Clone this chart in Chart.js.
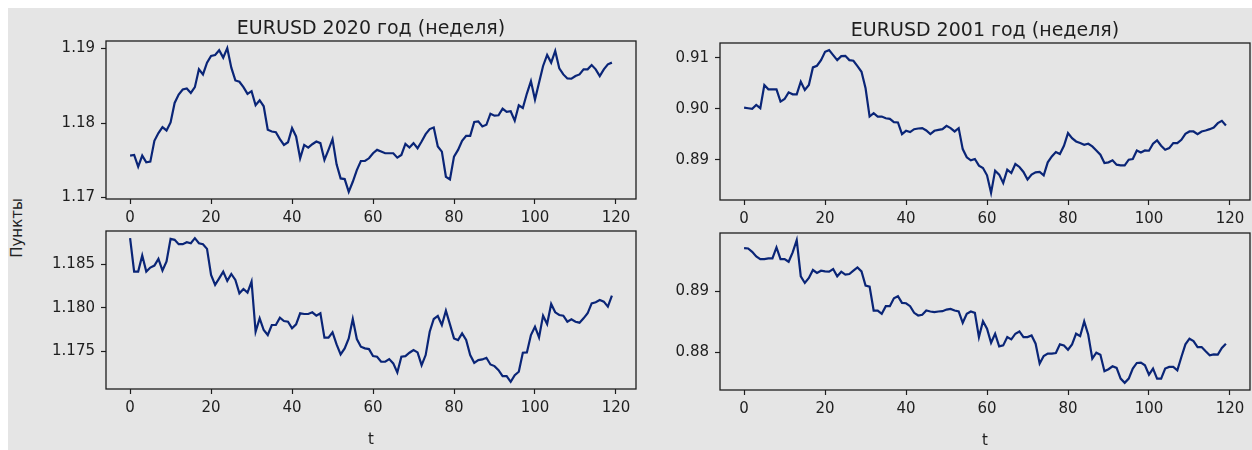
<!DOCTYPE html>
<html>
<head>
<meta charset="utf-8">
<script src="https://cdn.jsdelivr.net/npm/chart.js@4.4.1/dist/chart.umd.min.js"></script>
<style>
  html, body { margin: 0; padding: 0; background: #fff; overflow: hidden; width: 1252px; height: 450px; }
  #fig { position: absolute; left: 8px; top: 8px; right: 0; bottom: 0; background: #e5e5e5; }
  canvas { position: absolute; }
  #ylab {
    position: absolute; left: 17px; top: 228px;
    transform: translate(-50%, -50%) rotate(-90deg);
    font: 15px "DejaVu Sans"; color: #222; white-space: nowrap;
  }
</style>
</head>
<body>
<div id="fig"></div>
<div id="ylab">Пункты</div>
<script>
// weekly EURUSD closes
const eurusd2020Top = [
  1.17563, 1.17572, 1.17414, 1.17563, 1.17473, 1.17482, 1.17761, 1.17865, 1.17946, 1.17901,
  1.18009, 1.18270, 1.18383, 1.18450, 1.18464, 1.18405, 1.18482, 1.18721, 1.18653, 1.18811,
  1.18901, 1.18914, 1.18977, 1.18878, 1.19005, 1.18743, 1.18572, 1.18554, 1.18482, 1.18392,
  1.18428, 1.18239, 1.18306, 1.18225, 1.17910, 1.17887, 1.17878, 1.17784, 1.17707, 1.17743,
  1.17932, 1.17820, 1.17527, 1.17707, 1.17671, 1.17716, 1.17752, 1.17730, 1.17505, 1.17640,
  1.17784, 1.17446, 1.17257, 1.17248, 1.17077, 1.17212, 1.17369, 1.17491, 1.17491, 1.17527,
  1.17595, 1.17640, 1.17617, 1.17595, 1.17595, 1.17595, 1.17536, 1.17572, 1.17721, 1.17671,
  1.17730, 1.17662, 1.17752, 1.17851, 1.17919, 1.17941, 1.17685, 1.17617, 1.17279, 1.17243,
  1.17550, 1.17640, 1.17761, 1.17829, 1.17829, 1.18014, 1.18023, 1.17955, 1.17977, 1.18126,
  1.18099, 1.18104, 1.18194, 1.18149, 1.18158, 1.18032, 1.18239, 1.18203, 1.18396, 1.18563,
  1.18315, 1.18541, 1.18766, 1.18914, 1.18811, 1.18968, 1.18734, 1.18653, 1.18599, 1.18595,
  1.18631, 1.18653, 1.18721, 1.18721, 1.18779, 1.18721, 1.18631, 1.18721, 1.18788, 1.18811
];
const eurusd2020Bottom = [
  1.18800, 1.18415, 1.18415, 1.18600, 1.18415, 1.18462, 1.18485, 1.18562, 1.18427, 1.18531,
  1.18792, 1.18781, 1.18731, 1.18731, 1.18754, 1.18742, 1.18800, 1.18742, 1.18731, 1.18677,
  1.18377, 1.18262, 1.18338, 1.18415, 1.18308, 1.18388, 1.18319, 1.18165, 1.18215, 1.18173,
  1.18300, 1.17723, 1.17877, 1.17742, 1.17685, 1.17800, 1.17800, 1.17885, 1.17846, 1.17838,
  1.17762, 1.17808, 1.17935, 1.17927, 1.17927, 1.17946, 1.17908, 1.17935, 1.17654, 1.17654,
  1.17715, 1.17577, 1.17462, 1.17531, 1.17646, 1.17869, 1.17638, 1.17550, 1.17531, 1.17523,
  1.17442, 1.17435, 1.17377, 1.17377, 1.17408, 1.17358, 1.17254, 1.17435, 1.17442, 1.17481,
  1.17512, 1.17485, 1.17338, 1.17454, 1.17723, 1.17869, 1.17904, 1.17800, 1.17965, 1.17808,
  1.17646, 1.17627, 1.17704, 1.17627, 1.17454, 1.17365, 1.17396, 1.17404, 1.17423, 1.17346,
  1.17327, 1.17281, 1.17212, 1.17212, 1.17146, 1.17223, 1.17262, 1.17481, 1.17485, 1.17685,
  1.17781, 1.17658, 1.17908, 1.17812, 1.18042, 1.17946, 1.17915, 1.17908, 1.17838, 1.17865,
  1.17838, 1.17827, 1.17877, 1.17935, 1.18050, 1.18062, 1.18088, 1.18069, 1.18012, 1.18138
];
const eurusd2001Top = [
  0.90023, 0.90010, 0.89997, 0.90075, 0.90010, 0.90466, 0.90381, 0.90381, 0.90381, 0.90140,
  0.90192, 0.90322, 0.90283, 0.90283, 0.90531, 0.90368, 0.90466, 0.90811, 0.90844, 0.90954,
  0.91117, 0.91150, 0.91052, 0.90954, 0.91033, 0.91039, 0.90954, 0.90941, 0.90837, 0.90726,
  0.90401, 0.89847, 0.89912, 0.89847, 0.89847, 0.89814, 0.89801, 0.89736, 0.89730, 0.89502,
  0.89567, 0.89541, 0.89599, 0.89612, 0.89619, 0.89573, 0.89502, 0.89567, 0.89586, 0.89599,
  0.89664, 0.89619, 0.89554, 0.89619, 0.89208, 0.89046, 0.88987, 0.89013, 0.88883, 0.88837,
  0.88694, 0.88349, 0.88785, 0.88707, 0.88544, 0.88805, 0.88739, 0.88915, 0.88857, 0.88759,
  0.88609, 0.88707, 0.88752, 0.88759, 0.88694, 0.88948, 0.89065, 0.89150, 0.89111, 0.89274,
  0.89521, 0.89423, 0.89358, 0.89326, 0.89293, 0.89313, 0.89261, 0.89182, 0.89098, 0.88935,
  0.88948, 0.88987, 0.88902, 0.88889, 0.88889, 0.89000, 0.89013, 0.89182, 0.89143, 0.89182,
  0.89176, 0.89313, 0.89378, 0.89274, 0.89195, 0.89228, 0.89326, 0.89326, 0.89391, 0.89508,
  0.89554, 0.89554, 0.89502, 0.89554, 0.89573, 0.89599, 0.89632, 0.89717, 0.89762, 0.89671
];
const eurusd2001Bottom = [
  0.89710, 0.89705, 0.89650, 0.89574, 0.89530, 0.89530, 0.89541, 0.89541, 0.89721, 0.89530,
  0.89530, 0.89486, 0.89639, 0.89842, 0.89246, 0.89137, 0.89219, 0.89350, 0.89301, 0.89339,
  0.89328, 0.89322, 0.89366, 0.89246, 0.89322, 0.89273, 0.89284, 0.89339, 0.89393, 0.89328,
  0.89093, 0.89077, 0.88683, 0.88683, 0.88628, 0.88754, 0.88754, 0.88885, 0.88918, 0.88809,
  0.88803, 0.88754, 0.88645, 0.88601, 0.88612, 0.88683, 0.88667, 0.88656, 0.88667, 0.88672,
  0.88699, 0.88710, 0.88683, 0.88667, 0.88481, 0.88628, 0.88667, 0.88645, 0.88246, 0.88508,
  0.88383, 0.88153, 0.88301, 0.88093, 0.88109, 0.88246, 0.88208, 0.88301, 0.88339, 0.88246,
  0.88246, 0.88273, 0.88137, 0.87809, 0.87934, 0.87973, 0.87973, 0.87984, 0.88126, 0.88109,
  0.88038, 0.88126, 0.88301, 0.88262, 0.88503, 0.88284, 0.87891, 0.87989, 0.87956, 0.87683,
  0.87716, 0.87765, 0.87738, 0.87563, 0.87492, 0.87563, 0.87727, 0.87820, 0.87825, 0.87781,
  0.87628, 0.87727, 0.87563, 0.87563, 0.87727, 0.87754, 0.87754, 0.87699, 0.87918, 0.88126,
  0.88219, 0.88180, 0.88082, 0.88082, 0.88011, 0.87945, 0.87962, 0.87956, 0.88066, 0.88137
];

const xTicks = [0, 20, 40, 60, 80, 100, 120];
const yTicks2020Top = ['1.17', '1.18', '1.19'];
const yTicks2020Bottom = ['1.175', '1.180', '1.185'];
const yTicks2001Top = ['0.89', '0.90', '0.91'];
const yTicks2001Bottom = ['0.88', '0.89'];

const LINE = '#0a2577';
const INK = '#1e1e1e';
const FONT = 'DejaVu Sans';
Chart.defaults.font.family = FONT;

// plot area of every panel, in page pixels
const panels = [
  { values: eurusd2020Top,    yTicks: yTicks2020Top,    left: 106, top: 41,  bottom: 199, title: 'EURUSD 2020 год (неделя)' },
  { values: eurusd2001Top,    yTicks: yTicks2001Top,    left: 720, top: 43,  bottom: 200, title: 'EURUSD 2001 год (неделя)' },
  { values: eurusd2020Bottom, yTicks: yTicks2020Bottom, left: 106, top: 231, bottom: 389, xLabel: 't' },
  { values: eurusd2001Bottom, yTicks: yTicks2001Bottom, left: 720, top: 233, bottom: 390, xLabel: 't' }
];

const AREA_W = 530, Y_W = 100, TOP_H = 45;
const TITLE_SIZE = 19, TITLE_LH = TITLE_SIZE * 1.2;
const TITLE_PAD_TOP = TOP_H - 12 - TITLE_LH / 2;

const frame = {
  id: 'frame',
  afterDraw(chart) {
    const { ctx, chartArea: a } = chart;
    ctx.save();
    ctx.strokeStyle = INK;
    ctx.lineWidth = 1.3;
    ctx.strokeRect(a.left, a.top, a.right - a.left, a.bottom - a.top);
    ctx.restore();
  }
};

panels.forEach(p => {
  const xH = p.xLabel ? 60 : 40;
  const h = p.bottom - p.top;
  const cv = document.createElement('canvas');
  cv.width = Y_W + AREA_W + 4;
  cv.height = TOP_H + h + xH;
  cv.style.left = (p.left - Y_W) + 'px';
  cv.style.top = (p.top - TOP_H) + 'px';
  document.body.appendChild(cv);

  const lo = Math.min(...p.values), hi = Math.max(...p.values);
  const m = (hi - lo) * 0.05;
  const n = p.values.length;

  new Chart(cv, {
    type: 'line',
    data: {
      datasets: [{
        data: p.values.map((v, i) => ({ x: i, y: v })),
        borderColor: LINE,
        borderWidth: 2.2,
        pointRadius: 0,
        tension: 0,
        fill: false
      }]
    },
    options: {
      responsive: false,
      animation: false,
      devicePixelRatio: 1,
      layout: { padding: { top: p.title ? 0 : TOP_H, left: 0, right: 4, bottom: 0 } },
      plugins: {
        legend: { display: false },
        tooltip: { enabled: false },
        title: {
          display: !!p.title,
          fullSize: false,
          text: p.title || '',
          color: INK,
          font: { family: FONT, size: TITLE_SIZE, weight: 'normal', lineHeight: 1.2 },
          padding: { top: TITLE_PAD_TOP, bottom: TOP_H - TITLE_PAD_TOP - TITLE_LH }
        }
      },
      scales: {
        x: {
          type: 'linear',
          min: -0.05 * (n - 1),
          max: (n - 1) * 1.05,
          afterBuildTicks: s => { s.ticks = xTicks.map(v => ({ value: v })); },
          afterFit: s => { s.height = xH; },
          grid: { display: true, drawOnChartArea: false, drawTicks: true, tickLength: 5, tickColor: INK, tickWidth: 1.2 },
          border: { display: false },
          ticks: { color: INK, font: { size: 15 }, padding: 5, maxRotation: 0, autoSkip: false, callback: v => String(v) },
          title: {
            display: !!p.xLabel,
            text: p.xLabel || '',
            color: INK,
            font: { size: 15 },
            padding: { top: 0, bottom: 0 }
          }
        },
        y: {
          type: 'linear',
          min: lo - m,
          max: hi + m,
          afterBuildTicks: s => { s.ticks = p.yTicks.map(t => ({ value: parseFloat(t) })); },
          afterFit: s => { s.width = Y_W; },
          grid: { display: true, drawOnChartArea: false, drawTicks: true, tickLength: 5, tickColor: INK, tickWidth: 1.2 },
          border: { display: false },
          ticks: { color: INK, font: { size: 15 }, padding: 6, autoSkip: false, callback: (v, i) => p.yTicks[i] }
        }
      }
    },
    plugins: [frame]
  });
});
</script>
</body>
</html>
